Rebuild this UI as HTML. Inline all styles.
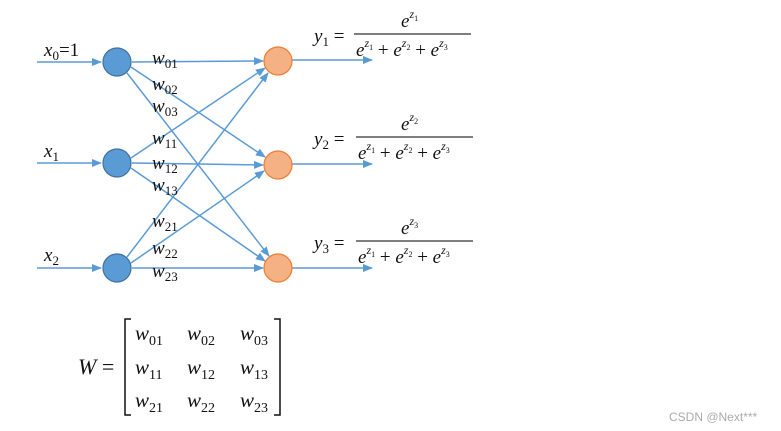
<!DOCTYPE html>
<html><head><meta charset="utf-8"><style>
html,body{margin:0;padding:0;background:#fff;width:781px;height:431px;overflow:hidden}
svg{display:block}
text{font-family:"Liberation Serif",serif;fill:#111}
.i{font-style:italic}
</style></head><body>
<svg width="781" height="431" viewBox="0 0 781 431" xmlns="http://www.w3.org/2000/svg">
<defs>
<marker id="a" markerWidth="10" markerHeight="8" refX="9" refY="4" orient="auto" markerUnits="userSpaceOnUse">
<path d="M0,0 L10,4 L0,8 Z" fill="#5b9bd5"/></marker>
</defs>
<g stroke="#5b9bd5" stroke-width="1.5" fill="none" marker-end="url(#a)">
<line x1="37" y1="62" x2="101" y2="62"/>
<line x1="37" y1="163" x2="101" y2="163"/>
<line x1="37" y1="268" x2="101" y2="268"/>
<line x1="132" y1="62" x2="263" y2="61"/>
<line x1="131" y1="67" x2="265" y2="157"/>
<line x1="127" y1="73" x2="269" y2="256"/>
<line x1="131" y1="158" x2="265" y2="68"/>
<line x1="132" y1="163" x2="263" y2="165"/>
<line x1="131" y1="168" x2="265" y2="261"/>
<line x1="127" y1="257" x2="268" y2="73"/>
<line x1="131" y1="263" x2="264" y2="171"/>
<line x1="132" y1="268" x2="263" y2="268"/>
<line x1="292" y1="60" x2="372" y2="60"/>
<line x1="292" y1="164" x2="372" y2="164"/>
<line x1="292" y1="268" x2="372" y2="268"/>
</g>
<g fill="#5b9bd5" stroke="#41719c" stroke-width="1.2">
<circle cx="117" cy="62" r="14"/><circle cx="117" cy="163" r="14"/><circle cx="117" cy="268" r="14"/>
</g>
<g fill="#f4b183" stroke="#ed7d31" stroke-width="1.2">
<circle cx="278" cy="61" r="14"/><circle cx="278" cy="165" r="14"/><circle cx="278" cy="268" r="14"/>
</g>
<!-- inputs -->
<text x="44" y="56" font-size="19"><tspan class="i">x</tspan><tspan font-size="13" dy="4">0</tspan><tspan dy="-4">=1</tspan></text>
<text x="44" y="157" font-size="19"><tspan class="i">x</tspan><tspan font-size="13" dy="4">1</tspan></text>
<text x="44" y="261" font-size="19"><tspan class="i">x</tspan><tspan font-size="13" dy="4">2</tspan></text>
<!-- weights -->
<g font-size="19">
<text x="152" y="64"><tspan class="i">w</tspan><tspan font-size="13" dy="4">01</tspan></text>
<text x="152" y="90"><tspan class="i">w</tspan><tspan font-size="13" dy="4">02</tspan></text>
<text x="152" y="112"><tspan class="i">w</tspan><tspan font-size="13" dy="4">03</tspan></text>
<text x="152" y="144"><tspan class="i">w</tspan><tspan font-size="13" dy="4">11</tspan></text>
<text x="152" y="169"><tspan class="i">w</tspan><tspan font-size="13" dy="4">12</tspan></text>
<text x="152" y="191"><tspan class="i">w</tspan><tspan font-size="13" dy="4">13</tspan></text>
<text x="152" y="227"><tspan class="i">w</tspan><tspan font-size="13" dy="4">21</tspan></text>
<text x="152" y="254"><tspan class="i">w</tspan><tspan font-size="13" dy="4">22</tspan></text>
<text x="152" y="277"><tspan class="i">w</tspan><tspan font-size="13" dy="4">23</tspan></text>
</g>
<!-- formulas -->
<g font-size="19">
<g transform="translate(0,0)">
<text x="314" y="42"><tspan class="i">y</tspan><tspan font-size="13" dy="4">1</tspan><tspan dy="-4"> =</tspan></text>
<text x="401" y="27"><tspan class="i">e</tspan><tspan font-size="12" dy="-9" class="i">z</tspan><tspan font-size="8" dy="3">1</tspan></text>
<line x1="354" y1="34" x2="471" y2="34" stroke="#333" stroke-width="1.2"/>
<text x="356" y="56"><tspan class="i">e</tspan><tspan font-size="12" dy="-9" class="i">z</tspan><tspan font-size="8" dy="3">1</tspan><tspan dy="6"> + </tspan><tspan class="i">e</tspan><tspan font-size="12" dy="-9" class="i">z</tspan><tspan font-size="8" dy="3">2</tspan><tspan dy="6"> + </tspan><tspan class="i">e</tspan><tspan font-size="12" dy="-9" class="i">z</tspan><tspan font-size="8" dy="3">3</tspan></text>
</g>
<g transform="translate(2,103)">
<text x="312" y="42"><tspan class="i">y</tspan><tspan font-size="13" dy="4">2</tspan><tspan dy="-4"> =</tspan></text>
<text x="399" y="27"><tspan class="i">e</tspan><tspan font-size="12" dy="-9" class="i">z</tspan><tspan font-size="8" dy="3">2</tspan></text>
<line x1="354" y1="34" x2="471" y2="34" stroke="#333" stroke-width="1.2"/>
<text x="356" y="56"><tspan class="i">e</tspan><tspan font-size="12" dy="-9" class="i">z</tspan><tspan font-size="8" dy="3">1</tspan><tspan dy="6"> + </tspan><tspan class="i">e</tspan><tspan font-size="12" dy="-9" class="i">z</tspan><tspan font-size="8" dy="3">2</tspan><tspan dy="6"> + </tspan><tspan class="i">e</tspan><tspan font-size="12" dy="-9" class="i">z</tspan><tspan font-size="8" dy="3">3</tspan></text>
</g>
<g transform="translate(2,207)">
<text x="312" y="42"><tspan class="i">y</tspan><tspan font-size="13" dy="4">3</tspan><tspan dy="-4"> =</tspan></text>
<text x="399" y="27"><tspan class="i">e</tspan><tspan font-size="12" dy="-9" class="i">z</tspan><tspan font-size="8" dy="3">3</tspan></text>
<line x1="354" y1="34" x2="471" y2="34" stroke="#333" stroke-width="1.2"/>
<text x="356" y="56"><tspan class="i">e</tspan><tspan font-size="12" dy="-9" class="i">z</tspan><tspan font-size="8" dy="3">1</tspan><tspan dy="6"> + </tspan><tspan class="i">e</tspan><tspan font-size="12" dy="-9" class="i">z</tspan><tspan font-size="8" dy="3">2</tspan><tspan dy="6"> + </tspan><tspan class="i">e</tspan><tspan font-size="12" dy="-9" class="i">z</tspan><tspan font-size="8" dy="3">3</tspan></text>
</g>
</g>
<!-- matrix -->
<text x="78" y="374" font-size="22"><tspan class="i">W</tspan><tspan> =</tspan></text>
<path d="M131,319 H125 V415 H131" stroke="#111" stroke-width="1.5" fill="none"/>
<path d="M274,319 H280 V415 H274" stroke="#111" stroke-width="1.5" fill="none"/>
<g font-size="21">
<text x="135" y="340"><tspan class="i">w</tspan><tspan font-size="14" dy="5">01</tspan></text>
<text x="187" y="340"><tspan class="i">w</tspan><tspan font-size="14" dy="5">02</tspan></text>
<text x="240" y="340"><tspan class="i">w</tspan><tspan font-size="14" dy="5">03</tspan></text>
<text x="135" y="374"><tspan class="i">w</tspan><tspan font-size="14" dy="5">11</tspan></text>
<text x="187" y="374"><tspan class="i">w</tspan><tspan font-size="14" dy="5">12</tspan></text>
<text x="240" y="374"><tspan class="i">w</tspan><tspan font-size="14" dy="5">13</tspan></text>
<text x="135" y="407"><tspan class="i">w</tspan><tspan font-size="14" dy="5">21</tspan></text>
<text x="187" y="407"><tspan class="i">w</tspan><tspan font-size="14" dy="5">22</tspan></text>
<text x="240" y="407"><tspan class="i">w</tspan><tspan font-size="14" dy="5">23</tspan></text>
</g>
<text x="669" y="421" font-size="12" style="font-family:'Liberation Sans',sans-serif;fill:#aaa">CSDN @Next***</text>
</svg>
</body></html>
